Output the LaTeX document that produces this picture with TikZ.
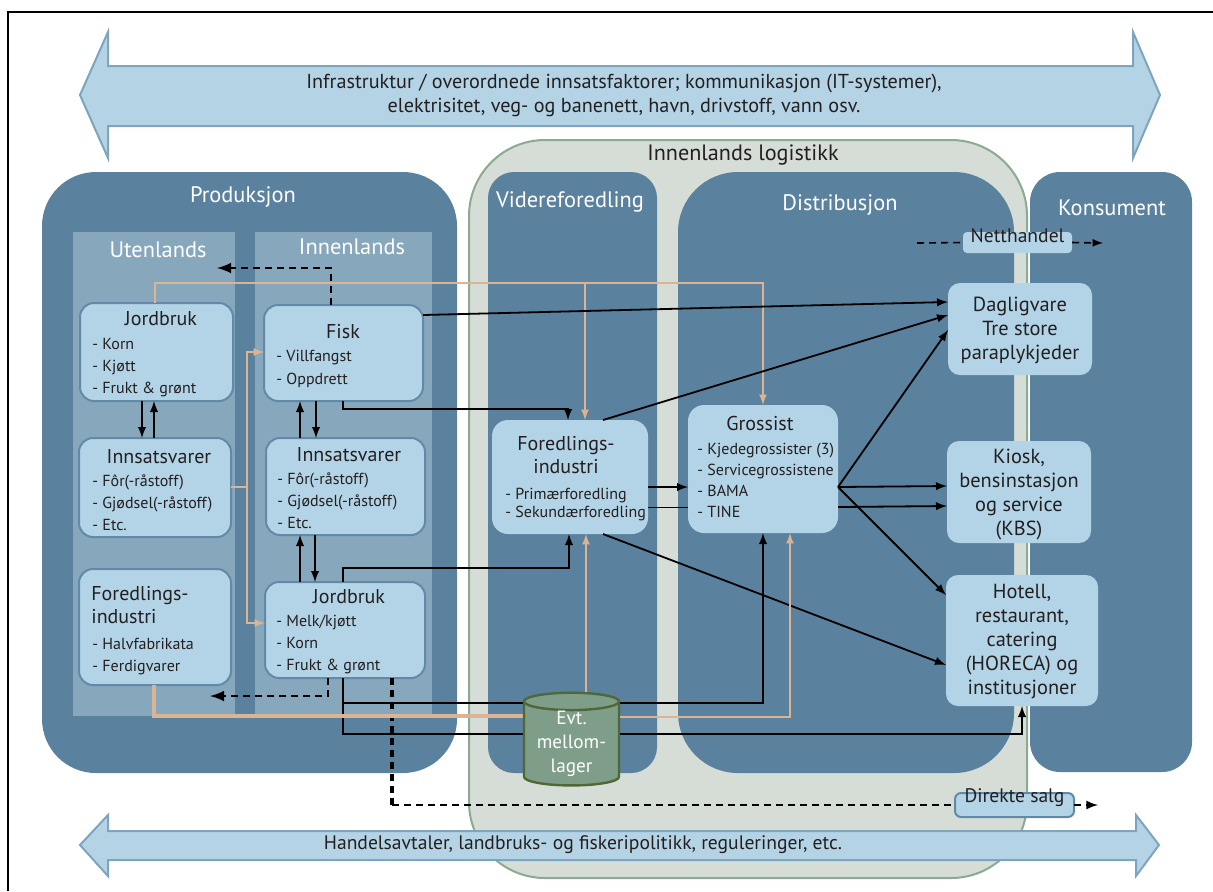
\documentclass[tikz,border=0pt]{standalone}
\usepackage{fontspec}
\setmainfont{PT Sans}
\usepackage{xcolor}
\usepackage{tikz}
\usetikzlibrary{shapes.geometric, arrows, positioning, calc, fit}
\definecolor{infblue}{RGB}{180,212,229}
\definecolor{infline}{RGB}{126,165,190}
\definecolor{prodblue}{RGB}{90,129,158}
\definecolor{colblue}{RGB}{134,167,188}
\definecolor{boxfill}{RGB}{179,212,230}
\definecolor{boxline}{RGB}{98,138,168}
\definecolor{logfill}{RGB}{214,221,214}
\definecolor{logline}{RGB}{138,170,146}
\definecolor{cylfill}{RGB}{127,158,137}
\definecolor{cylline}{RGB}{80,104,56}
\definecolor{tanline}{RGB}{219,181,147}
\definecolor{txtdark}{RGB}{35,31,32}

\begin{document}
\begin{tikzpicture}[x=0.5pt, y=-0.5pt, >=latex,
  panel/.style={inner sep=0pt, outer sep=0pt, fill=prodblue},
  column/.style={inner sep=0pt, outer sep=0pt, fill=colblue},
  box/.style={inner sep=0pt, outer sep=0pt, draw=boxline, line width=1pt, fill=boxfill, rounded corners=7pt},
  rbox/.style={inner sep=0pt, outer sep=0pt, fill=boxfill, rounded corners=6pt, align=center, text=txtdark, font=\fontsize{9.8}{12}\selectfont},
  rtext/.style={align=center, text=txtdark, inner sep=0pt, font=\fontsize{10.2}{12}\selectfont},
  head/.style={text=white, font=\fontsize{11.2}{13}\selectfont},
  title/.style={text=txtdark, font=\fontsize{10}{12}\selectfont, inner sep=0pt, text height=1.6ex, text depth=0pt},
  item/.style={text=txtdark, font=\fontsize{8}{10}\selectfont, anchor=west, inner sep=0pt, text height=1.6ex, text depth=0pt},
  flow/.style={->, line width=0.9pt},
  tanflow/.style={->, draw=tanline, line width=0.8pt},
  dashflow/.style={->, dash pattern=on 3.5pt off 2.5pt, line width=1.4pt},
  bigarrow/.style={fill=infblue, draw=infline, line width=1pt},
]
\useasboundingbox (0,0) rectangle (1213,891);

% Frame
\draw[line width=1pt] (8,891) -- (8,12) -- (1213,12);

% Top arrow
\draw[bigarrow] (80,95) -- (108,32) -- (108,66) -- (1133,66) -- (1133,32) -- (1160,95)
  -- (1133,158) -- (1133,126) -- (108,126) -- (108,158) -- cycle;
\node[align=center, text=txtdark, font=\fontsize{10.1}{12}\selectfont] (infra) at (624,95)
  {Infrastruktur / overordnede innsatsfaktorer; kommunikasjon (IT-systemer),\\
   elektrisitet, veg- og banenett, havn, drivstoff, vann osv.};

% Containers
\node[fit={(469,140) (1027,878)}, inner sep=0pt, fill=logfill, draw=logline, line width=1pt, rounded corners=38pt] (logist) {};
\node[text=txtdark, font=\fontsize{11.1}{13}\selectfont] (logist-t) at (743,155) {Innenlands logistikk};
\node[panel, fit={(42,172) (457,773)}, rounded corners=27pt] (prod) {};
\node[column, fit={(73,232) (235,716)}] (uten) {};
\node[column, fit={(255,232) (432,716)}] (innen) {};
\node[panel, fit={(488,172) (657,773)}, rounded corners=13pt] (vider) {};
\node[panel, fit={(678,172) (1014,773)}, rounded corners=30pt] (distr) {};
\node[panel, fit={(1030,172) (1192,772)}, rounded corners=15pt] (kons) {};

\node[head] (prod-t) at (243,197) {Produksjon};
\node[head] (uten-t) at (158,250) {Utenlands};
\node[head] (innen-t) at (352,247) {Innenlands};
\node[head] (vider-t) at (570,202) {Videreforedling};
\node[head] (distr-t) at (840,205) {Distribusjon};
\node[head] (kons-t) at (1112,208) {Konsument};

% Bottom arrow
\draw[bigarrow] (80,845) -- (108,815) -- (108,831) -- (1136,831) -- (1136,815) -- (1159,845)
  -- (1136,876) -- (1136,860) -- (108,860) -- (108,876) -- cycle;
\node[text=txtdark, font=\fontsize{9.8}{12}\selectfont] (handel) at (583,845)
  {Handelsavtaler, landbruks- og fiskeripolitikk, reguleringer, etc.};

% Boxes
\node[box, fit={(80,303) (233,401)}] (jordU) {};
\node[box, fit={(79,438) (231,537)}] (innsU) {};
\node[box, fit={(79,569) (231,685)}] (foredU) {};
\node[box, fit={(264,305) (423,401)}] (fisk) {};
\node[box, fit={(266,438) (425,535)}] (innsI) {};
\node[box, fit={(265,582) (425,678)}] (jordI) {};
\node[rbox, fit={(492,420) (648,534)}, rounded corners=8pt] (foredV) {};
\node[rbox, fit={(688,405) (838,533)}, rounded corners=8pt] (gross) {};

\node[rbox, fit={(948,283) (1092,375)}] (dagl) {};
\node[rbox, fit={(947,441) (1091,543)}] (kiosk) {};
\node[rbox, fit={(946,575) (1098,706)}] (hotell) {};
\node[rbox, fit={(963,232) (1072,253)}, rounded corners=2pt] (nett) {Netthandel};
\node[rbox, fit={(955,793) (1074,817)}, rounded corners=3pt, draw=boxline, line width=1pt] (direkte) {Direkte salg};
\node[rtext] (dagl-t) at ($(dagl.center)+(0,1)$) {Dagligvare\\Tre store\\paraplykjeder};
\node[rtext] (kiosk-t) at ($(kiosk.center)+(0,3)$) {Kiosk,\\bensinstasjon\\og service\\(KBS)};
\node[rtext] (hotell-t) at ($(hotell.center)+(0,1)$) {Hotell,\\restaurant,\\catering\\(HORECA) og\\institusjoner};

% Box texts
\node[title] (jordU-t) at (161,317) {Jordbruk};
\foreach \t [count=\i from 0] in {Korn, Kjøtt, Frukt \& grønt}
  \node[item] (jordU-\i) at (92,{341+22*\i}) {- \t};
\node[title] (innsU-t) at (159,455) {Innsatsvarer};
\foreach \t [count=\i from 0] in {Fôr(-råstoff), Gjødsel(-råstoff), Etc.}
  \node[item] (innsU-\i) at (92,{478+22*\i}) {- \t};
\node[title, anchor=west] (foredU-t1) at (91,592) {Foredlings-};
\node[title, anchor=west] (foredU-t2) at (91,615) {industri};
\foreach \t [count=\i from 0] in {Halvfabrikata, Ferdigvarer}
  \node[item] (foredU-\i) at (92,{641+22*\i}) {- \t};
\node[title] (fisk-t) at (343,330) {Fisk};
\foreach \t [count=\i from 0] in {Villfangst, Oppdrett}
  \node[item] (fisk-\i) at (276,{353+23*\i}) {- \t};
\node[title] (innsI-t) at (349,453) {Innsatsvarer};
\foreach \t [count=\i from 0] in {Fôr(-råstoff), Gjødsel(-råstoff), Etc.}
  \node[item] (innsI-\i) at (277,{476+22*\i}) {- \t};
\node[title] (jordI-t) at (349,595) {Jordbruk};
\foreach \t [count=\i from 0] in {Melk/kjøtt, Korn, Frukt \& grønt}
  \node[item] (jordI-\i) at (276,{618+22*\i}) {- \t};
\node[title] (foredV-t1) at (566,442) {Foredlings-};
\node[title] (foredV-t2) at (566,465) {industri};
\foreach \t [count=\i from 0] in {Primærforedling, Sekundærforedling}
  \node[item] (foredV-\i) at (505,{491+18.5*\i}) {- \t};
\node[title] (gross-t) at (760,422) {Grossist};
\foreach \t [count=\i from 0] in {Kjedegrossister (3), Servicegrossistene, BAMA, TINE}
  \node[item] (gross-\i) at (697,{446+21*\i}) {- \t};

% Free ends
\coordinate (eksport) at (217,268);
\coordinate (import) at (210,696);
\coordinate (tanjoin) at (585,283);
\coordinate (tansplit) at (247,487);
\coordinate (salgbend) at (392,805);
\coordinate (nettstart) at (917,243);
\coordinate (nettend) at (1103,243);
\coordinate (salgend) at (1098,805);

% Tan flows
\draw[tanflow] (155,0 |- jordU.north) |- (763,283) -- (763,0 |- gross.north);
\draw[tanflow] (tanjoin) -- (585,0 |- foredV.north);
\draw[tanflow] (innsU.east |- tansplit) -- (tansplit) |- (fisk.west |- 0,352);
\draw[tanflow] (tansplit) |- (jordI.west |- 0,623);

% Black flows
\draw[flow] (142,0 |- jordU.south) -- (142,0 |- innsU.north);
\draw[flow] (154,0 |- innsU.north) -- (154,0 |- jordU.south);
\draw[flow] (300,0 |- innsI.north) -- (300,0 |- fisk.south);
\draw[flow] (316,0 |- fisk.south) -- (316,0 |- innsI.north);
\draw[flow] (300,0 |- jordI.north) -- (300,0 |- innsI.south);
\draw[flow] (315,0 |- innsI.south) -- (315,0 |- jordI.north);
\draw[flow] (fisk.east |- 0,315) -- (dagl.west |- 0,302);
\draw[flow] (343,0 |- fisk.south) |- (568,409) -- (568,0 |- foredV.north);
\draw[flow] (603,0 |- foredV.north) -- (dagl.west |- 0,315);
\draw[flow] (603,0 |- foredV.south) -- (hotell.west |- 0,665);
\draw[flow] (foredV.east |- 0,487) -- (gross.west |- 0,487);
\draw (foredV.east |- 0,507) -- (gross.west |- 0,507);
\draw[flow] (gross.east |- 0,487) -- (dagl.west |- 0,330);
\draw[flow] (gross.east |- 0,487) -- (kiosk.west |- 0,486);
\draw[flow] (gross.east |- 0,507) -- (kiosk.west |- 0,506);
\draw[flow] (gross.east |- 0,487) -- (hotell.west |- 0,595);
\draw[flow] (343,0 |- jordI.north) |- (569,568) -- (569,0 |- foredV.south);
\draw[flow] (343,0 |- jordI.south) |- (763,703) -- (763,0 |- gross.south);
\draw[flow] (343,0 |- jordI.south) |- (1022,734) -- (1022,0 |- hotell.south);

% Dashed flows
\draw[dashflow] (331,0 |- fisk.north) |- (eksport);
\draw[dashflow] (328,0 |- jordI.south) |- (import);
\draw[dashflow, -, line width=1.6pt] (392,0 |- jordI.south) -- (salgbend);
\draw[dashflow, -, line width=1pt] (salgbend) -- (direkte.west);
\draw[dashflow, line width=1pt] (direkte.east) -- (salgend);
\draw[dashflow, -, line width=0.8pt] (nettstart) -- (nett.west);
\draw[dashflow, line width=0.8pt] (nett.east) -- (nettend);

% Storage
\draw[draw=tanline, line width=1.6pt] (154,0 |- foredU.south) |- (530,716);
\node[cylinder, shape border rotate=90, aspect=0.25, minimum width=47.5pt, minimum height=41pt,
  inner sep=0pt, fill=cylfill, draw=cylline, line width=1.2pt, align=center, text=white,
  font=\fontsize{9.6}{12}\selectfont] (lager) at (571.5,744) {Evt.\\mellom-\\lager};
\draw[tanflow] (lager.east |- 0,717) -| (790,0 |- gross.south);
\draw[tanflow] (586,0 |- lager.north) -- (586,0 |- foredV.south);
\end{tikzpicture}
\end{document}
